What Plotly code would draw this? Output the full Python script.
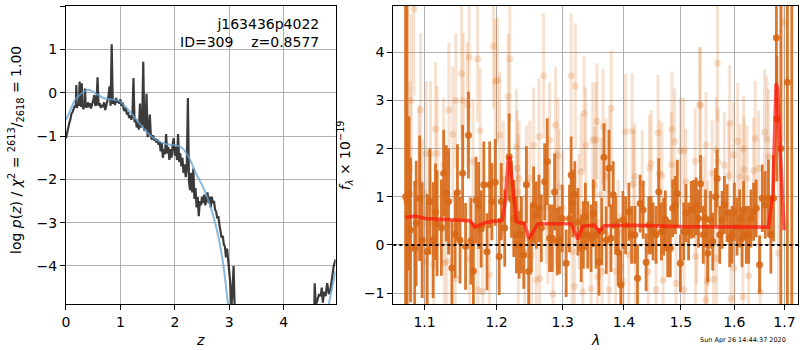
import math
import plotly.graph_objects as go

# ---------------- left panel: log p(z) ----------------
Z_PZ = [0.00,0.02,0.04,0.06,0.08,0.10,0.12,0.14,0.16,0.18,0.19,0.20,0.22,0.24,0.25,0.26,0.28,0.29,0.30,0.32,
        0.34,0.35,0.36,0.38,0.40,0.42,0.44,0.46,0.48,0.50,0.52,0.54,0.56,0.58,0.60,0.62,0.64,0.66,0.68,0.70,
        0.72,0.74,0.76,0.78,0.80,0.82,0.84,0.86,0.88,0.90,0.92,0.94,0.96,0.98,1.00,1.02,1.04,1.06,1.08,1.10,
        1.12,1.14,1.16,1.18,1.20,1.22,1.24,1.26,1.28,1.30,1.32,1.34,1.36,1.38,1.40,1.42,1.44,1.46,1.48,1.50,
        1.52,1.54,1.56,1.58,1.60,1.62,1.64,1.66,1.68,1.70,1.72,1.74,1.76,1.78,1.80,1.82,1.84,1.86,1.88,1.90,
        1.92,1.94,1.96,1.98,2.00,2.02,2.04,2.06,2.08,2.10,2.12,2.14,2.16,2.18,2.20,2.22,2.24,2.26,2.28,2.30,
        2.32,2.34,2.36,2.38,2.40,2.42,2.44,2.46,2.48,2.50,2.52,2.54,2.56,2.58,2.60,2.62,2.64,2.66,2.68,2.70,
        2.72,2.74,2.76,2.78,2.80,2.82,2.84,2.86,2.88,2.90,2.92,2.94,2.96,2.98,3.00,3.02,3.04,3.06,3.08,3.10,3.12]
LOGP = [-1.05,-0.90,-0.85,-0.70,-0.62,-0.48,-0.45,-0.35,-0.30,-0.33,0.18,-0.35,-0.25,-0.30,0.26,-0.20,-0.32,0.22,-0.28,-0.38,
        -0.25,0.10,-0.30,-0.34,-0.22,-0.33,-0.24,-0.36,-0.28,-0.18,-0.05,-0.30,-0.26,0.36,-0.30,-0.24,-0.35,-0.28,-0.33,-0.22,
        -0.40,-0.30,-0.20,-0.08,0.15,-0.30,1.12,-0.25,-0.18,-0.28,-0.12,-0.22,-0.18,-0.25,-0.15,-0.30,-0.22,-0.38,-0.42,-0.35,
        -0.50,-0.44,-0.58,-0.52,-0.62,-0.55,0.34,-0.68,-0.60,-0.80,-0.68,-0.85,-0.25,-0.80,-0.72,0.72,-0.88,-0.80,-0.02,-1.02,
        -0.92,-0.50,-1.00,-1.08,-0.98,-1.10,-1.05,-1.15,-1.08,-1.20,-1.12,-1.35,-1.15,-1.50,-1.30,-1.42,-0.95,-1.40,-1.25,-1.55,
        -1.30,-1.50,-1.20,-1.05,-1.45,-1.25,-1.55,-0.95,-1.60,-1.40,-1.70,-1.50,-1.85,-1.65,-1.95,-1.75,-0.12,-2.05,-2.25,-1.85,
        -2.30,-1.75,-2.45,-2.20,-2.65,-2.40,-2.85,-2.50,-2.60,-2.40,-2.55,-2.35,-2.60,-2.45,-2.30,-2.55,-2.40,-2.65,-2.40,-2.55,
        -2.50,-2.70,-2.75,-2.90,-2.85,-3.05,-3.20,-3.35,-3.30,-3.50,-3.55,-3.80,-3.60,-3.85,-4.10,-4.40,-4.95,-4.60,-4.00,-4.95,-6.00]
Z_PZ_HI = [4.55,4.57,4.59,4.62,4.65,4.68,4.70,4.72,4.74,4.77,4.80,4.83,4.86,4.89,4.92,4.955]
LOGP_HI = [-6.00,-4.40,-4.90,-4.80,-4.65,-4.70,-4.50,-4.85,-4.60,-4.70,-4.40,-4.65,-4.55,-4.30,-4.00,-3.85]

Z_FIT = [0.00,0.08,0.17,0.29,0.41,0.54,0.69,0.87,0.99,1.12,1.30,1.48,1.66,1.85,2.03,2.15,2.27,2.39,2.52,2.64,2.76,2.88,2.97,3.02]
LOGP_FIT = [-0.63,-0.40,-0.16,-0.01,0.07,-0.01,-0.12,-0.16,-0.20,-0.36,-0.63,-0.90,-1.09,-1.19,-1.21,-1.29,-1.52,-1.87,-2.18,-2.57,-3.10,-3.88,-4.81,-5.40]
Z_FIT_HI = [4.78,4.83,4.89,4.955]
LOGP_FIT_HI = [-5.40,-4.90,-4.50,-4.12]

# ---------------- right panel: spectrum ----------------
WAVE_BIN = [1.0750,1.0770,1.0794,1.0815,1.0869,1.0889,1.0934,1.0968,1.1035,1.1070,1.1114,1.1146,1.1168,1.1226,1.1257,1.1293,
            1.1324,1.1369,1.1414,1.1446,1.1482,1.1518,1.1559,1.1600,1.1633,1.1669,1.1706,1.1743,1.1779,1.1817,1.1863,1.1901,
            1.1933,1.1981,1.2039,1.2070,1.2120,1.2185,1.2219,1.2253,1.2293,1.2333,1.2367,1.2402,1.2442,1.2476,1.2517,1.2551,
            1.2592,1.2633,1.2669,1.2719,1.2760,1.2796,1.2837,1.2873,1.2915,1.2950,1.2993,1.3055,1.3107,1.3134,1.3161,1.3193,
            1.3241,1.3294,1.3330,1.3362,1.3400,1.3454,1.3492,1.3535,1.3584,1.3629,1.3666,1.3704,1.3749,1.3782,1.3820,1.3860,
            1.3904,1.3949,1.3983,1.4028,1.4084,1.4130,1.4186,1.4232,1.4277,1.4330,1.4381,1.4427,1.4468,1.4502,1.4555,1.4602,
            1.4649,1.4690,1.4720,1.4761,1.4808,1.4850,1.4899,1.4935,1.4989,1.5049,1.5090,1.5139,1.5188,1.5231,1.5279,1.5322,
            1.5359,1.5410,1.5452,1.5495,1.5546,1.5588,1.5640,1.5671,1.5721,1.5765,1.5809,1.5861,1.5911,1.5957,1.6002,1.6053,
            1.6103,1.6150,1.6181,1.6234,1.6280,1.6325,1.6378,1.6430,1.6496,1.6551,1.6610,1.6675,1.6723,1.6777,1.6835,1.6845,
            1.6927,1.7061,1.7152]
FLUX_BIN = [1.00,0.90,1.07,0.31,-0.07,0.45,0.97,0.10,-0.14,0.90,0.10,0.69,0.45,0.36,1.49,1.07,
            0.90,-0.48,0.22,1.09,0.10,1.49,-0.03,2.28,0.08,-0.54,0.93,0.82,0.33,1.25,-0.14,1.25,
            0.90,1.30,-0.24,0.90,0.35,1.83,0.95,0.55,0.21,0.00,0.21,-0.21,1.25,-0.55,0.14,0.83,
            0.62,0.76,0.35,1.31,1.73,0.14,0.14,1.10,0.07,0.10,0.55,-0.38,0.55,1.45,0.86,1.04,
            0.48,-0.07,0.21,0.59,0.21,0.14,0.66,0.21,-0.35,0.28,1.82,0.10,1.59,0.14,1.04,0.41,
            -0.15,-0.83,0.52,0.41,0.69,0.21,0.21,-0.69,0.86,0.73,-0.36,0.41,0.41,0.28,0.21,1.10,
            0.28,0.38,0.53,-0.07,-0.07,0.76,0.83,1.07,-0.38,0.28,0.66,0.28,0.73,0.75,0.80,0.55,
            1.27,0.21,0.55,-0.17,0.52,0.07,1.00,1.38,0.21,0.52,0.83,0.66,0.14,0.21,0.69,0.38,
            0.55,0.14,0.73,0.21,0.21,0.55,0.69,0.76,-0.41,0.97,0.83,0.97,0.21,0.97,4.30,2.62,
            2.00,3.38,5.50]
ERR_BIN = [8.0,8.0,1.6,1.5,1.4,1.3,1.3,1.2,1.2,1.1,1.2,1.0,1.1,1.0,0.9,1.0,
           1.1,1.0,0.9,1.0,0.9,1.0,0.9,0.9,0.9,1.0,0.9,0.9,0.8,0.9,0.8,0.9,
           0.8,0.9,0.8,0.8,0.8,0.9,0.8,0.8,0.8,0.7,0.8,0.7,0.8,0.7,0.7,0.8,
           0.7,0.7,0.7,0.8,0.9,0.7,0.7,0.8,0.7,0.7,0.7,0.7,0.7,0.8,0.7,0.7,
           0.7,0.7,0.7,0.7,0.7,0.7,0.7,0.7,0.7,0.7,0.7,0.7,0.8,0.7,0.7,0.6,
           0.7,0.7,0.6,0.6,0.6,0.6,0.6,0.7,0.6,0.6,0.6,0.6,0.6,0.6,0.6,0.7,
           0.6,0.6,0.6,0.6,0.6,0.6,0.6,0.7,0.6,0.6,0.6,0.6,0.6,0.6,0.6,0.6,
           0.6,0.6,0.6,0.6,0.6,0.6,0.6,0.6,0.6,0.6,0.6,0.6,0.6,0.6,0.6,0.6,
           0.6,0.6,0.6,0.6,0.6,0.6,0.6,0.6,0.6,0.7,0.7,0.8,0.8,0.9,1.5,1.3,
           8.0,8.0,8.0]

WAVE_RAW = [1.0807,1.0824,1.0859,1.0925,1.0947,1.0968,1.1013,1.1021,1.1080,1.1124,1.1146,1.1168,1.1257,1.1266,1.1301,1.1328,
            1.1382,1.1414,1.1423,1.1504,1.1527,1.1586,1.1609,1.1618,1.1664,1.1729,1.1733,1.1765,1.1802,1.1896,1.1956,1.1981,
            1.2015,1.2048,1.2098,1.2170,1.2194,1.2293,1.2303,1.2318,1.2320,1.2333,1.2417,1.2442,1.2493,1.2517,1.2551,1.2592,
            1.2633,1.2643,1.2704,1.2745,1.2771,1.2796,1.2848,1.2888,1.2899,1.2925,1.2941,1.3003,1.3134,1.3150,1.3187,1.3201,
            1.3257,1.3294,1.3320,1.3340,1.3368,1.3454,1.3482,1.3508,1.3535,1.3551,1.3562,1.3612,1.3635,1.3650,1.3697,1.3749,
            1.3761,1.3787,1.3860,1.3904,1.3944,1.3983,1.4028,1.4084,1.4140,1.4164,1.4186,1.4195,1.4312,1.4416,1.4440,1.4468,
            1.4555,1.4590,1.4614,1.4660,1.4678,1.4826,1.4838,1.4886,1.4911,1.4989,1.5049,1.5055,1.5090,1.5260,1.5265,1.5290,
            1.5341,1.5359,1.5410,1.5452,1.5460,1.5480,1.5495,1.5576,1.5604,1.5655,1.5660,1.5678,1.5690,1.5809,1.5892,1.5911,
            1.5934,1.5986,1.5995,1.6065,1.6115,1.6168,1.6181,1.6190,1.6246,1.6280,1.6378,1.6410,1.6476,1.6510,1.6596,1.6643,
            1.6675,1.6878,1.6981]
FLUX_RAW = [1.60,3.00,4.90,1.30,2.80,0.60,-0.35,1.90,1.90,-0.40,2.40,1.90,1.66,-0.38,-0.35,2.80,
            2.30,-0.69,3.00,3.56,3.00,2.90,3.90,-0.28,1.73,3.86,-0.93,2.37,-0.97,-0.62,4.13,3.40,
            3.42,2.28,1.38,3.08,3.86,2.04,1.59,1.10,-0.41,1.38,-0.14,1.28,1.38,-0.21,2.07,-0.73,
            2.25,-0.69,3.51,0.80,0.38,2.18,-1.02,2.49,0.76,1.85,1.21,0.76,3.51,-0.14,-0.86,3.30,
            0.69,1.52,-0.97,2.73,2.07,-0.91,2.18,1.25,2.18,2.57,-0.66,1.04,-0.55,2.46,1.42,-0.93,
            1.59,2.84,-0.55,0.26,-0.45,-0.76,2.35,-0.21,2.37,1.27,1.42,-0.28,1.28,-0.55,1.60,1.69,
            -0.93,2.33,1.49,1.44,-0.73,1.67,2.40,2.15,-0.80,1.96,1.95,-0.93,1.31,1.74,-0.24,0.28,
            2.91,2.90,0.73,-1.14,2.07,-0.75,0.24,1.49,-0.71,1.97,-0.28,3.77,1.73,1.66,1.44,2.53,
            -1.11,1.87,-0.48,2.16,1.42,-1.07,1.99,1.56,1.38,-0.64,1.54,2.21,1.59,-0.97,2.34,2.20,
            1.83,-0.17,4.63]
ERR_RAW = [1.8,1.8,1.8,1.6,1.6,1.6,1.5,1.5,1.5,1.4,1.4,1.4,1.4,1.4,1.4,1.4,
           1.4,1.3,1.4,1.4,1.4,1.3,1.3,1.3,1.3,1.3,1.3,1.3,1.3,1.3,1.3,1.3,
           1.3,1.3,1.2,1.3,1.3,1.2,1.2,1.2,1.2,1.2,1.2,1.2,1.2,1.2,1.2,1.2,
           1.2,1.2,1.3,1.2,1.2,1.2,1.2,1.2,1.2,1.2,1.2,1.2,1.3,1.2,1.2,1.3,
           1.2,1.2,1.2,1.2,1.2,1.2,1.2,1.2,1.2,1.2,1.2,1.2,1.2,1.2,1.2,1.2,
           1.2,1.2,1.2,1.1,1.1,1.1,1.2,1.1,1.2,1.1,1.1,1.1,1.1,1.1,1.1,1.1,
           1.1,1.2,1.1,1.1,1.1,1.1,1.2,1.1,1.1,1.1,1.1,1.1,1.1,1.1,1.1,1.1,
           1.2,1.2,1.1,1.1,1.1,1.1,1.1,1.1,1.1,1.1,1.1,1.2,1.1,1.1,1.1,1.2,
           1.1,1.1,1.1,1.2,1.1,1.1,1.1,1.1,1.1,1.1,1.1,1.2,1.2,1.2,1.3,1.3,
           1.4,1.8,2.5]

WAVE_MODEL = [1.0746,1.0876,1.1008,1.1322,1.1620,1.1690,1.1833,1.1929,1.2082,1.2131,1.2170,1.2194,1.2244,1.2293,1.2417,
              1.2477,1.2527,1.2617,1.3134,1.3241,1.3320,1.3508,1.3590,1.3672,1.4118,1.4994,1.6675,1.6764,1.6830,1.6857,
              1.6911,1.6994]
FLUX_MODEL = [0.57,0.60,0.55,0.53,0.505,0.37,0.46,0.49,0.505,0.93,1.76,1.83,1.21,0.48,0.44,
              0.14,0.24,0.44,0.44,0.12,0.39,0.41,0.28,0.40,0.41,0.38,0.37,1.07,3.35,3.25,
              1.97,0.31]

X_TICKS = [1.1, 1.2, 1.3, 1.4, 1.5, 1.6, 1.7]
TITLE_LINES = ["j163436p4022", "ID=309    z=0.8577"]
TIMESTAMP = "Sun Apr 26 14:44:37 2020"

# ---------------- figure ----------------
W, H = 800, 350
def px_x(p):
    return p / W
def px_y(p):
    return 1 - p / H

ORANGE = "214,104,22"
FONT = "DejaVu Sans"

fig = go.Figure()

# left
fig.add_trace(go.Scatter(x=Z_PZ, y=LOGP, mode="lines", line=dict(color="rgba(25,25,25,0.85)", width=2.2),
                         xaxis="x", yaxis="y", showlegend=False))
fig.add_trace(go.Scatter(x=Z_PZ_HI, y=LOGP_HI, mode="lines", line=dict(color="rgba(25,25,25,0.85)", width=2.2),
                         xaxis="x", yaxis="y", showlegend=False))
fig.add_trace(go.Scatter(x=Z_FIT, y=LOGP_FIT, mode="lines", line=dict(color="rgba(100,160,210,0.75)", width=2, shape="spline"),
                         xaxis="x", yaxis="y", showlegend=False))
fig.add_trace(go.Scatter(x=Z_FIT_HI, y=LOGP_FIT_HI, mode="lines", line=dict(color="rgba(100,160,210,0.75)", width=2, shape="spline"),
                         xaxis="x", yaxis="y", showlegend=False))

# right
fig.add_trace(go.Scatter(x=WAVE_RAW, y=FLUX_RAW, mode="markers",
                         marker=dict(color=f"rgba({ORANGE},0.2)", size=7),
                         error_y=dict(type="data", array=ERR_RAW, visible=True, thickness=3, width=0,
                                      color=f"rgba({ORANGE},0.2)"),
                         xaxis="x2", yaxis="y2", showlegend=False))
fig.add_trace(go.Scatter(x=WAVE_BIN, y=FLUX_BIN, mode="markers",
                         marker=dict(color=f"rgba({ORANGE},0.9)", size=7),
                         error_y=dict(type="data", array=ERR_BIN, visible=True, thickness=2.8, width=0,
                                      color=f"rgba({ORANGE},0.9)"),
                         xaxis="x2", yaxis="y2", showlegend=False))
fig.add_trace(go.Scatter(x=WAVE_MODEL, y=FLUX_MODEL, mode="lines",
                         line=dict(color="rgba(255,20,10,0.7)", width=3.6),
                         xaxis="x2", yaxis="y2", showlegend=False))

fig.add_shape(type="line", xref="x2 domain", yref="y2", x0=0, x1=1, y0=0, y1=0,
              line=dict(color="black", width=2, dash="dot"))

axis_common = dict(showline=True, mirror=True, linecolor="black", linewidth=1,
                   ticks="outside", ticklen=5, tickcolor="black", tickwidth=1,
                   showgrid=True, gridcolor="#b0b0b0", gridwidth=1, zeroline=False,
                   tickfont=dict(family=FONT, size=14, color="black"))

fig.update_layout(
    width=W, height=H, margin=dict(l=0, r=0, t=0, b=0),
    paper_bgcolor="white", plot_bgcolor="white",
    font=dict(family=FONT, size=14, color="black"),
    xaxis=dict(domain=[px_x(62.3), px_x(333.3)], range=[0, 4.955], tickvals=[0, 1, 2, 3, 4],
               anchor="y", **axis_common),
    yaxis=dict(domain=[px_y(304), px_y(6.3)], range=[-4.88, 2.0], tickvals=[-4, -3, -2, -1, 0, 1, 2],
               anchor="x", **axis_common),
    xaxis2=dict(domain=[px_x(391.3), px_x(798.3)], type="log",
                range=[math.log10(1.0592), math.log10(1.7288)], tickvals=X_TICKS,
                ticktext=[f"{v:.1f}" for v in X_TICKS], anchor="y2", **axis_common),
    yaxis2=dict(domain=[px_y(304), px_y(6.0)], range=[-1.225, 4.96], tickvals=[-1, 0, 1, 2, 3, 4],
                anchor="x2", **axis_common),
)

ann = []
ann.append(dict(text="<br>".join(TITLE_LINES), xref="paper", yref="paper", x=px_x(319), y=px_y(14),
                xanchor="right", yanchor="top", align="right", showarrow=False,
                font=dict(family=FONT, size=14, color="black")))
ann.append(dict(text="<i>z</i>", xref="paper", yref="paper", x=px_x(197), y=px_y(340),
                xanchor="center", yanchor="middle", showarrow=False, font=dict(family=FONT, size=14)))
ann.append(dict(text="<i>λ</i>", xref="paper", yref="paper", x=px_x(594), y=px_y(340),
                xanchor="center", yanchor="middle", showarrow=False, font=dict(family=FONT, size=14)))
ann.append(dict(text="log <i>p</i>(<i>z</i>) / <i>χ</i><sup>2</sup> = <sup>2613</sup>/<sub>2618</sub> = 1.00",
                xref="paper", yref="paper", x=px_x(12), y=px_y(150), textangle=-90,
                xanchor="center", yanchor="middle", showarrow=False, font=dict(family=FONT, size=14)))
ann.append(dict(text="<i>f</i><sub><i>λ</i></sub> × 10<sup>−19</sup>",
                xref="paper", yref="paper", x=px_x(343), y=px_y(155), textangle=-90,
                xanchor="center", yanchor="middle", showarrow=False, font=dict(family=FONT, size=14)))
ann.append(dict(text=TIMESTAMP, xref="paper", yref="paper", x=px_x(788), y=px_y(339.5),
                xanchor="right", yanchor="middle", showarrow=False, font=dict(family=FONT, size=6.5)))
fig.update_layout(annotations=ann)

fig.write_html("out.html", config={"displayModeBar": False},
               post_script="document.body.style.margin='0px';document.body.style.overflow='hidden';")
